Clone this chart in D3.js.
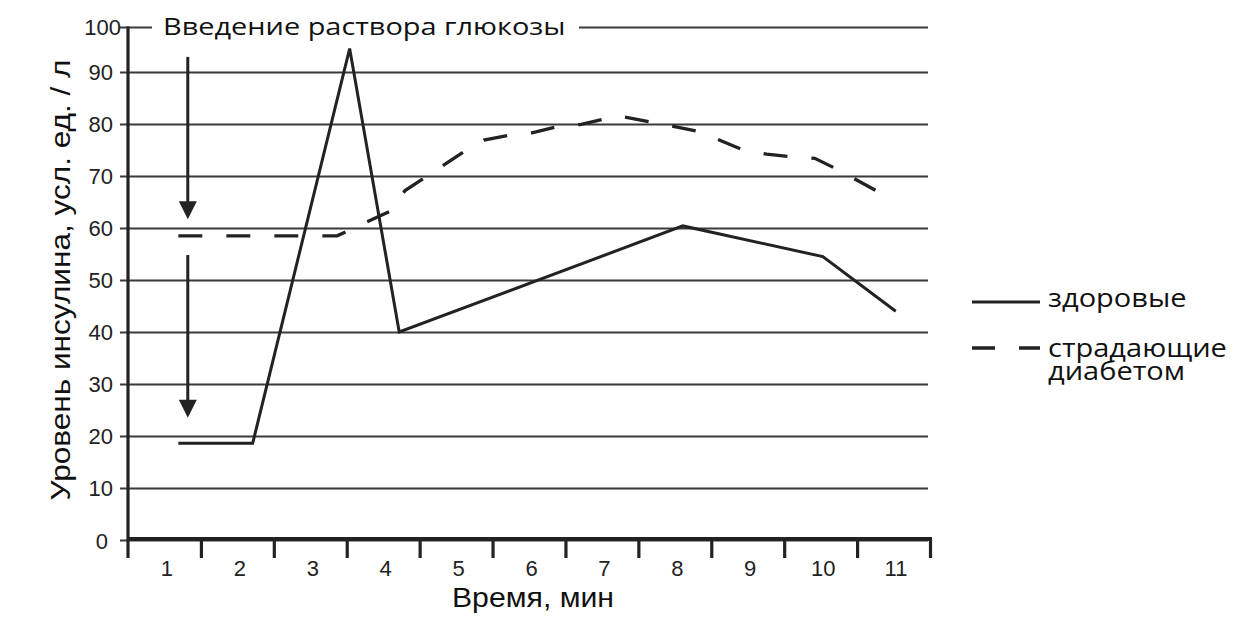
<!DOCTYPE html>
<html><head><meta charset="utf-8">
<script src="https://cdn.jsdelivr.net/npm/d3@7"></script>
<style>body{margin:0;background:#fff}svg{display:block}</style>
</head><body><svg id="c" width="1248" height="628"></svg>
<script>
// ---- data ----
const timeLabels = ["1","2","3","4","5","6","7","8","9","10","11"];
const yTickValues = [0,10,20,30,40,50,60,70,80,90,100];
const healthyT = [1.19, 2.21, 3.54, 4.22, 8.11, 10.03, 11.03];
const healthyV = [18.6, 18.6, 94.5, 40.0, 60.4, 54.5, 44.0];
const diabetesT = [1.19, 3.37, 4.09, 4.30, 5.10, 5.38, 5.71, 6.04, 6.36, 6.70, 7.02, 7.22, 7.67, 8.32, 8.94, 9.26, 9.58, 9.92, 10.21, 10.81];
const diabetesV = [58.5, 58.5, 63.2, 67.2, 74.6, 76.9, 77.8, 78.3, 79.4, 79.9, 80.9, 81.6, 80.4, 78.6, 75.0, 74.2, 73.7, 73.4, 71.4, 66.8];
const seriesNames = ["здоровые", "страдающие диабетом"];
const annotationText = "Введение раствора глюкозы";
const arrowT = 1.32;
const arrowFrom = [92.9, 54.8];
const arrowTo = [61.7, 23.5];
const xTitle = "Время, мин";
const yTitle = "Уровень инсулина, усл. ед. / л";

// ---- layout ----
const svg = d3.select("#c");
const x = d3.scaleLinear().domain([0.5, 11.5]).range([128, 930]);
const y = d3.scaleLinear().domain([0, 100]).range([540, 20]);
const INK = "#222";
const GRID = "#3a3a3a";
const numFont = "'Liberation Sans', Arial, sans-serif";
const txtFont = "'Open Sans', 'Noto Sans', sans-serif";
const topShift = 7.5; // the top (100) line sits slightly below its nominal place in the original

// gridlines + y labels
const gy = svg.append("g").attr("transform", "translate(120,0)")
  .call(d3.axisLeft(y).tickValues(yTickValues).tickSize(-808).tickPadding(7));
gy.select(".domain").remove();
gy.selectAll(".tick").filter(d => d === 100)
  .attr("transform", `translate(0,${y(100) + topShift})`);
gy.selectAll(".tick line").attr("stroke", GRID).attr("stroke-width", 2.2);
gy.selectAll(".tick text").attr("font-family", numFont).attr("font-size", 22)
  .attr("fill", INK).attr("dy", d => d === 0 ? "0.38em" : "0.36em")
  .attr("x", d => d === 100 ? 1 : (d === 0 ? -12 : -7));

// annotation on the top line
const topY = y(100) + topShift;
svg.append("rect").attr("x", 152).attr("y", topY - 8).attr("width", 427).attr("height", 16).attr("fill", "#fff");
svg.append("text").attr("transform", `translate(163,${topY + 7}) scale(1.18,1)`)
  .attr("font-family", txtFont).attr("font-size", 24.5).attr("fill", "#111")
  .text(annotationText);

// y axis line
svg.append("line").attr("x1", x(0.5)).attr("x2", x(0.5)).attr("y1", topY - 1).attr("y2", y(0) + 18)
  .attr("stroke", INK).attr("stroke-width", 3.2);

// x axis ticks
const gxT = svg.append("g").attr("transform", `translate(0,${y(0)})`)
  .call(d3.axisBottom(x).tickValues(d3.range(1.5, 11.6, 1)).tickSize(18).tickFormat(""));
gxT.select(".domain").remove();
gxT.selectAll(".tick line").attr("stroke", INK).attr("stroke-width", 3.2);
// x axis line
svg.append("line").attr("x1", x(0.5)).attr("x2", x(11.5) + 2).attr("y1", y(0) - 1).attr("y2", y(0) - 1)
  .attr("stroke", INK).attr("stroke-width", 4);
// x labels
const gxL = svg.append("g").attr("transform", `translate(2,${y(0)})`)
  .call(d3.axisBottom(x).tickValues(timeLabels.map((d, i) => i + 1)).tickSize(0).tickPadding(20)
    .tickFormat((d, i) => timeLabels[i]));
gxL.select(".domain").remove();
gxL.selectAll(".tick text").attr("font-family", numFont).attr("font-size", 22).attr("fill", INK);

// titles
svg.append("text").attr("transform", "translate(533,607) scale(1.12,1)").attr("text-anchor", "middle")
  .attr("font-family", numFont).attr("font-size", 27).attr("fill", "#111").text(xTitle);
svg.append("text").attr("transform", "translate(69.5,280) rotate(-90) scale(1.17,1)").attr("text-anchor", "middle")
  .attr("font-family", numFont).attr("font-size", 27).attr("fill", "#111").text(yTitle);

// arrows
arrowFrom.forEach((f, i) => {
  const ax = x(arrowT), y0 = y(f), y1 = y(arrowTo[i]);
  svg.append("line").attr("x1", ax).attr("x2", ax).attr("y1", y0).attr("y2", y1 - 10)
    .attr("stroke", INK).attr("stroke-width", 3);
  svg.append("path").attr("d", `M${ax - 9},${y1 - 18} L${ax + 9},${y1 - 18} L${ax},${y1} Z`).attr("fill", INK);
});

// series
const line = d3.line().x(d => x(d[0])).y(d => y(d[1]));
svg.append("path").datum(healthyT.map((t, i) => [t, healthyV[i]]))
  .attr("d", line).attr("fill", "none").attr("stroke", INK).attr("stroke-width", 3)
  .attr("stroke-linejoin", "miter");
svg.append("path").datum(diabetesT.map((t, i) => [t, diabetesV[i]]))
  .attr("d", line).attr("fill", "none").attr("stroke", INK).attr("stroke-width", 3.3)
  .attr("stroke-dasharray", "24,24");

// legend
const lg = svg.append("g");
lg.append("line").attr("x1", 972).attr("x2", 1040).attr("y1", 302).attr("y2", 302)
  .attr("stroke", INK).attr("stroke-width", 3.2);
lg.append("line").attr("x1", 972).attr("x2", 1040).attr("y1", 348).attr("y2", 348)
  .attr("stroke", INK).attr("stroke-width", 3.3).attr("stroke-dasharray", "23,24");
lg.append("text").attr("transform", "translate(1048,307) scale(1.16,1)").attr("font-family", txtFont).attr("font-size", 25)
  .attr("fill", "#111").text(seriesNames[0]);
const parts = seriesNames[1].split(" ");
const t2 = lg.append("text").attr("transform", "translate(1048,357) scale(1.16,1)").attr("font-family", txtFont).attr("font-size", 25)
  .attr("fill", "#111");
t2.append("tspan").attr("x", 0).attr("y", 0).text(parts[0]);
t2.append("tspan").attr("x", 0).attr("y", 23).text(parts[1]);
</script></body></html>
